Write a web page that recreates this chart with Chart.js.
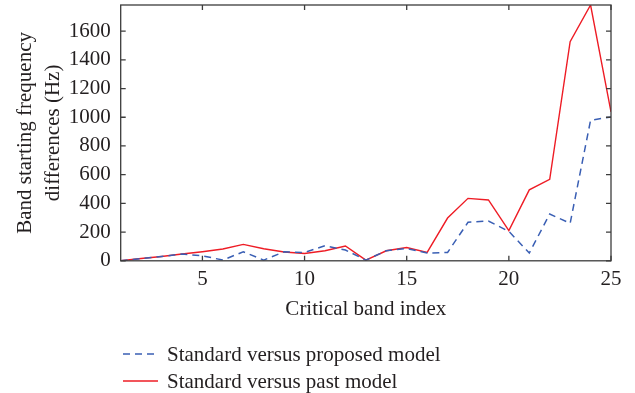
<!DOCTYPE html>
<html>
<head>
<meta charset="utf-8">
<script src="https://cdn.jsdelivr.net/npm/chart.js@4"></script>
<style>
  html, body { margin: 0; padding: 0; background: #fff; }
  #wrap { width: 635px; height: 393px; position: relative; }
</style>
</head>
<body>
<div id="wrap"><canvas id="chart"></canvas></div>
<script>
// critical band index 1..25
const bandIndex = [1, 2, 3, 4, 5, 6, 7, 8, 9, 10, 11, 12, 13, 14, 15, 16, 17, 18, 19, 20, 21, 22, 23, 24, 25];
// standard vs proposed model (Hz)
const proposedDiff = [0, 16, 30, 47, 35, 5, 63, 5, 63, 58, 105, 75, 5, 70, 86, 54, 58, 268, 277, 205, 54, 326, 261, 979, 1002];
// standard vs past model (Hz)
const pastDiff = [0, 16, 30, 47, 63, 82, 114, 84, 61, 51, 70, 103, 5, 70, 93, 58, 298, 435, 424, 210, 494, 568, 1526, 1782, 1037];

const xTicks = [5, 10, 15, 20, 25];
const yTicks = [0, 200, 400, 600, 800, 1000, 1200, 1400, 1600];
const seriesNames = ["Standard versus proposed model", "Standard versus past model"];

const FONT = "'Liberation Serif', 'DejaVu Serif', serif";
const FS = 21;
const TEXT = "#231f20";
const AXIS = "#3c3c3c";
const BLUE = "#3a5fb4";
const RED = "#ee1c25";

// frame with inward ticks on all four sides, plus the legend under the plot
const framePlugin = {
  id: "frame",
  afterDraw(chart) {
    const ctx = chart.ctx;
    const a = chart.chartArea;
    const x = chart.scales.x, y = chart.scales.y;
    ctx.save();
    ctx.strokeStyle = AXIS;
    ctx.lineWidth = 1.3;
    ctx.strokeRect(a.left, a.top, a.right - a.left, a.bottom - a.top);
    ctx.beginPath();
    xTicks.forEach(v => {
      const px = x.getPixelForValue(v);
      ctx.moveTo(px, a.bottom); ctx.lineTo(px, a.bottom - 5);
      ctx.moveTo(px, a.top); ctx.lineTo(px, a.top + 5);
    });
    yTicks.forEach(v => {
      const py = y.getPixelForValue(v);
      ctx.moveTo(a.left, py); ctx.lineTo(a.left + 5, py);
      ctx.moveTo(a.right, py); ctx.lineTo(a.right - 5, py);
    });
    ctx.stroke();

    // legend
    const colors = [BLUE, RED];
    const dashes = [[7, 5], []];
    ctx.font = FS + "px " + FONT;
    ctx.fillStyle = TEXT;
    ctx.textBaseline = "middle";
    seriesNames.forEach((name, i) => {
      const ly = 354 + i * 27;
      ctx.beginPath();
      ctx.strokeStyle = colors[i];
      ctx.lineWidth = 1.4;
      ctx.setLineDash(dashes[i]);
      ctx.moveTo(123, ly); ctx.lineTo(158, ly);
      ctx.stroke();
      ctx.setLineDash([]);
      ctx.fillText(name, 167, ly + 1);
    });
    ctx.restore();
  }
};

new Chart(document.getElementById("chart"), {
  type: "line",
  data: {
    datasets: [
      {
        label: seriesNames[0],
        data: bandIndex.map((b, i) => ({ x: b, y: proposedDiff[i] })),
        borderColor: BLUE,
        borderWidth: 1.5,
        borderDash: [7, 5],
        pointRadius: 0,
        tension: 0,
        fill: false
      },
      {
        label: seriesNames[1],
        data: bandIndex.map((b, i) => ({ x: b, y: pastDiff[i] })),
        borderColor: RED,
        borderWidth: 1.4,
        pointRadius: 0,
        tension: 0,
        fill: false
      }
    ]
  },
  options: {
    responsive: true,
    maintainAspectRatio: false,
    animation: false,
    layout: { padding: { top: 5, right: 24, bottom: 73, left: 11 } },
    plugins: {
      legend: { display: false },
      tooltip: { enabled: false }
    },
    scales: {
      x: {
        type: "linear",
        min: bandIndex[0],
        max: bandIndex[bandIndex.length - 1],
        afterBuildTicks: s => { s.ticks = xTicks.map(v => ({ value: v })); },
        afterFit: s => { s.paddingLeft = 0; s.paddingRight = 0; },
        grid: { display: false, drawTicks: false },
        border: { display: false },
        ticks: { color: TEXT, font: { family: FONT, size: FS }, padding: 6, maxRotation: 0 },
        title: { display: true, text: "Critical band index", color: TEXT, font: { family: FONT, size: FS, lineHeight: 1.0 }, padding: { top: 1, bottom: 0 } }
      },
      y: {
        type: "linear",
        min: 0,
        max: Math.max(...pastDiff),
        afterBuildTicks: s => { s.ticks = yTicks.map(v => ({ value: v })); },
        afterFit: s => { s.paddingTop = 0; s.paddingBottom = 0; s.width -= 9; },
        grid: { display: false, drawTicks: false },
        border: { display: false },
        ticks: { color: TEXT, font: { family: FONT, size: FS }, padding: 10, callback: v => String(v) },
        title: {
          display: true,
          text: ["Band starting frequency", "differences (Hz)"],
          color: TEXT,
          font: { family: FONT, size: FS, lineHeight: 1.35 },
          padding: { top: 0, bottom: 0 }
        }
      }
    }
  },
  plugins: [framePlugin]
});
</script>
</body>
</html>
